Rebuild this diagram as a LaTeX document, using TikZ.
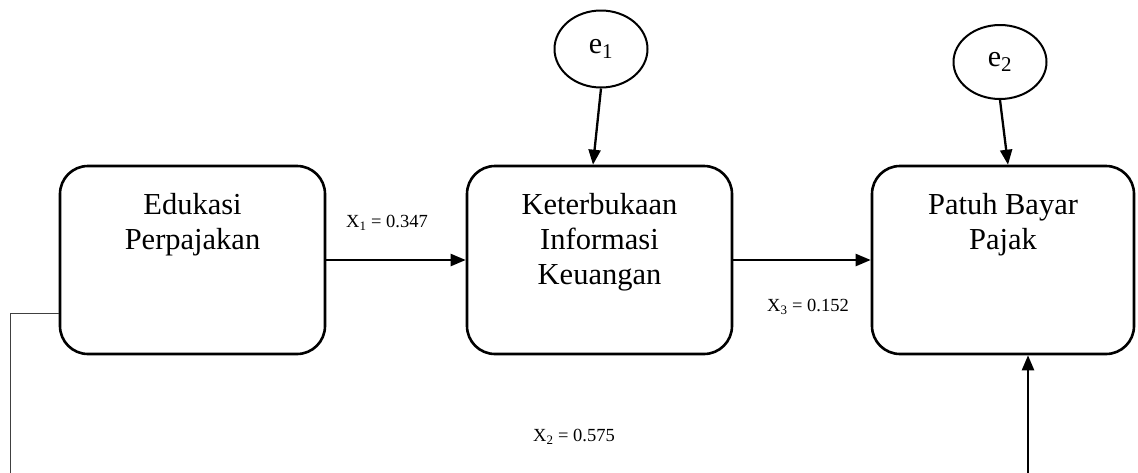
\documentclass[tikz,border=0pt]{standalone}
\usepackage{fontspec}
\setmainfont{Liberation Serif}
\usetikzlibrary{arrows.meta,calc,shapes.geometric}
\begin{document}
\begin{tikzpicture}[x=1pt,y=-1pt,
  boxnode/.style={draw,line width=2.6pt,rounded corners=28pt,minimum width=265pt,minimum height=188pt,inner sep=0pt},
  boxtext/.style={font=\fontsize{30.5}{35}\selectfont,align=center,inner sep=0pt,anchor=north},
  errnode/.style={draw,line width=2pt,ellipse,minimum width=93pt,minimum height=74pt,inner sep=0pt,font=\fontsize{30}{35}\selectfont},
  coef/.style={font=\fontsize{18.5}{22}\selectfont,inner sep=0pt},
  arr/.style={line width=2.3pt,-{Triangle[length=15pt,width=12pt]}},
  thinline/.style={line width=1pt,draw=black!75}
]
\useasboundingbox (0,0) rectangle (1138,472);
\clip (0,0) rectangle (1138,472);
\node[boxnode] (b1) at (192.5,260) {};
\node[boxnode] (b2) at (599.5,260) {};
\node[boxnode,minimum width=262pt] (b3) at (1003,260) {};
\node[boxtext] (t1) at (192.5,193) {Edukasi\\Perpajakan};
\node[boxtext] (t2) at (599.5,193) {Keterbukaan\\Informasi\\Keuangan};
\node[boxtext] (t3) at (1003,193) {Patuh Bayar\\Pajak};
\node[errnode,minimum height=77pt] (e1) at (601,49) {e\textsubscript{1}};
\node[errnode] (e2) at (1000,62) {e\textsubscript{2}};
\draw[arr] (b1.east) -- (b2.west);
\draw[arr] (b2.east) -- (b3.west);
\draw[arr] (e1.south) -- ($(b2.north)+(-6.5,0)$);
\draw[arr] (e2.south) -- ($(b3.north)+(5,0)$);
\coordinate (la) at (10,313);
\coordinate (lb) at (10,480);
\draw[thinline] (b1.west |- la) -- (la) -- (lb);
\coordinate (ra) at (1028,480);
\draw[arr] (ra) -- (b3.south -| ra);
\node[coef] (x1) at (387,223) {X\textsubscript{1} = 0.347};
\node[coef] (x3) at (808,307) {X\textsubscript{3} = 0.152};
\node[coef] (x2) at (574,437) {X\textsubscript{2} = 0.575};
\end{tikzpicture}
\end{document}
